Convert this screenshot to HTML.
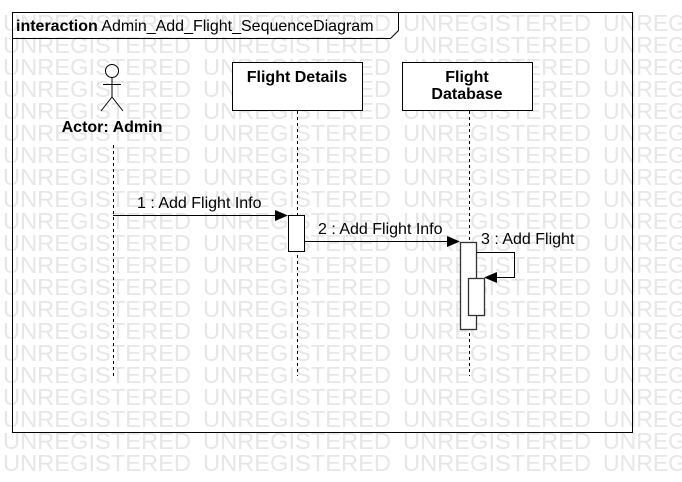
<!DOCTYPE html>
<html><head><style>
html,body{margin:0;padding:0;background:#fff;}
svg{display:block;}
</style></head><body>
<svg width="682" height="482" xmlns="http://www.w3.org/2000/svg" font-family="Liberation Sans, sans-serif">
<defs><text id="w" font-size="23" textLength="188" lengthAdjust="spacingAndGlyphs">UNREGISTERED</text></defs>
<g fill="#e6e6e6" font-size="23">
<text x="3" y="31" textLength="188" lengthAdjust="spacingAndGlyphs">UNREGISTERED</text><text x="203" y="31" textLength="188" lengthAdjust="spacingAndGlyphs">UNREGISTERED</text><text x="403" y="31" textLength="188" lengthAdjust="spacingAndGlyphs">UNREGISTERED</text><text x="603" y="31">UNREG</text>
<text x="3" y="53" textLength="188" lengthAdjust="spacingAndGlyphs">UNREGISTERED</text><text x="203" y="53" textLength="188" lengthAdjust="spacingAndGlyphs">UNREGISTERED</text><text x="403" y="53" textLength="188" lengthAdjust="spacingAndGlyphs">UNREGISTERED</text><text x="603" y="53">UNREG</text>
<text x="3" y="75" textLength="188" lengthAdjust="spacingAndGlyphs">UNREGISTERED</text><text x="203" y="75" textLength="188" lengthAdjust="spacingAndGlyphs">UNREGISTERED</text><text x="403" y="75" textLength="188" lengthAdjust="spacingAndGlyphs">UNREGISTERED</text><text x="603" y="75">UNREG</text>
<text x="3" y="97" textLength="188" lengthAdjust="spacingAndGlyphs">UNREGISTERED</text><text x="203" y="97" textLength="188" lengthAdjust="spacingAndGlyphs">UNREGISTERED</text><text x="403" y="97" textLength="188" lengthAdjust="spacingAndGlyphs">UNREGISTERED</text><text x="603" y="97">UNREG</text>
<text x="3" y="119" textLength="188" lengthAdjust="spacingAndGlyphs">UNREGISTERED</text><text x="203" y="119" textLength="188" lengthAdjust="spacingAndGlyphs">UNREGISTERED</text><text x="403" y="119" textLength="188" lengthAdjust="spacingAndGlyphs">UNREGISTERED</text><text x="603" y="119">UNREG</text>
<text x="3" y="141" textLength="188" lengthAdjust="spacingAndGlyphs">UNREGISTERED</text><text x="203" y="141" textLength="188" lengthAdjust="spacingAndGlyphs">UNREGISTERED</text><text x="403" y="141" textLength="188" lengthAdjust="spacingAndGlyphs">UNREGISTERED</text><text x="603" y="141">UNREG</text>
<text x="3" y="163" textLength="188" lengthAdjust="spacingAndGlyphs">UNREGISTERED</text><text x="203" y="163" textLength="188" lengthAdjust="spacingAndGlyphs">UNREGISTERED</text><text x="403" y="163" textLength="188" lengthAdjust="spacingAndGlyphs">UNREGISTERED</text><text x="603" y="163">UNREG</text>
<text x="3" y="185" textLength="188" lengthAdjust="spacingAndGlyphs">UNREGISTERED</text><text x="203" y="185" textLength="188" lengthAdjust="spacingAndGlyphs">UNREGISTERED</text><text x="403" y="185" textLength="188" lengthAdjust="spacingAndGlyphs">UNREGISTERED</text><text x="603" y="185">UNREG</text>
<text x="3" y="207" textLength="188" lengthAdjust="spacingAndGlyphs">UNREGISTERED</text><text x="203" y="207" textLength="188" lengthAdjust="spacingAndGlyphs">UNREGISTERED</text><text x="403" y="207" textLength="188" lengthAdjust="spacingAndGlyphs">UNREGISTERED</text><text x="603" y="207">UNREG</text>
<text x="3" y="229" textLength="188" lengthAdjust="spacingAndGlyphs">UNREGISTERED</text><text x="203" y="229" textLength="188" lengthAdjust="spacingAndGlyphs">UNREGISTERED</text><text x="403" y="229" textLength="188" lengthAdjust="spacingAndGlyphs">UNREGISTERED</text><text x="603" y="229">UNREG</text>
<text x="3" y="251" textLength="188" lengthAdjust="spacingAndGlyphs">UNREGISTERED</text><text x="203" y="251" textLength="188" lengthAdjust="spacingAndGlyphs">UNREGISTERED</text><text x="403" y="251" textLength="188" lengthAdjust="spacingAndGlyphs">UNREGISTERED</text><text x="603" y="251">UNREG</text>
<text x="3" y="273" textLength="188" lengthAdjust="spacingAndGlyphs">UNREGISTERED</text><text x="203" y="273" textLength="188" lengthAdjust="spacingAndGlyphs">UNREGISTERED</text><text x="403" y="273" textLength="188" lengthAdjust="spacingAndGlyphs">UNREGISTERED</text><text x="603" y="273">UNREG</text>
<text x="3" y="295" textLength="188" lengthAdjust="spacingAndGlyphs">UNREGISTERED</text><text x="203" y="295" textLength="188" lengthAdjust="spacingAndGlyphs">UNREGISTERED</text><text x="403" y="295" textLength="188" lengthAdjust="spacingAndGlyphs">UNREGISTERED</text><text x="603" y="295">UNREG</text>
<text x="3" y="317" textLength="188" lengthAdjust="spacingAndGlyphs">UNREGISTERED</text><text x="203" y="317" textLength="188" lengthAdjust="spacingAndGlyphs">UNREGISTERED</text><text x="403" y="317" textLength="188" lengthAdjust="spacingAndGlyphs">UNREGISTERED</text><text x="603" y="317">UNREG</text>
<text x="3" y="339" textLength="188" lengthAdjust="spacingAndGlyphs">UNREGISTERED</text><text x="203" y="339" textLength="188" lengthAdjust="spacingAndGlyphs">UNREGISTERED</text><text x="403" y="339" textLength="188" lengthAdjust="spacingAndGlyphs">UNREGISTERED</text><text x="603" y="339">UNREG</text>
<text x="3" y="361" textLength="188" lengthAdjust="spacingAndGlyphs">UNREGISTERED</text><text x="203" y="361" textLength="188" lengthAdjust="spacingAndGlyphs">UNREGISTERED</text><text x="403" y="361" textLength="188" lengthAdjust="spacingAndGlyphs">UNREGISTERED</text><text x="603" y="361">UNREG</text>
<text x="3" y="383" textLength="188" lengthAdjust="spacingAndGlyphs">UNREGISTERED</text><text x="203" y="383" textLength="188" lengthAdjust="spacingAndGlyphs">UNREGISTERED</text><text x="403" y="383" textLength="188" lengthAdjust="spacingAndGlyphs">UNREGISTERED</text><text x="603" y="383">UNREG</text>
<text x="3" y="405" textLength="188" lengthAdjust="spacingAndGlyphs">UNREGISTERED</text><text x="203" y="405" textLength="188" lengthAdjust="spacingAndGlyphs">UNREGISTERED</text><text x="403" y="405" textLength="188" lengthAdjust="spacingAndGlyphs">UNREGISTERED</text><text x="603" y="405">UNREG</text>
<text x="3" y="427" textLength="188" lengthAdjust="spacingAndGlyphs">UNREGISTERED</text><text x="203" y="427" textLength="188" lengthAdjust="spacingAndGlyphs">UNREGISTERED</text><text x="403" y="427" textLength="188" lengthAdjust="spacingAndGlyphs">UNREGISTERED</text><text x="603" y="427">UNREG</text>
<text x="3" y="449" textLength="188" lengthAdjust="spacingAndGlyphs">UNREGISTERED</text><text x="203" y="449" textLength="188" lengthAdjust="spacingAndGlyphs">UNREGISTERED</text><text x="403" y="449" textLength="188" lengthAdjust="spacingAndGlyphs">UNREGISTERED</text><text x="603" y="449">UNREG</text>
<text x="3" y="471" textLength="188" lengthAdjust="spacingAndGlyphs">UNREGISTERED</text><text x="203" y="471" textLength="188" lengthAdjust="spacingAndGlyphs">UNREGISTERED</text><text x="403" y="471" textLength="188" lengthAdjust="spacingAndGlyphs">UNREGISTERED</text><text x="603" y="471">UNREG</text>
</g>
<rect x="12.5" y="12.5" width="620" height="420" fill="none" stroke="#000"/>
<path d="M12.5 38.5 H390.5 L398.5 30.5 V12.5" fill="none" stroke="#000"/>
<text x="16" y="31" font-size="16"><tspan font-weight="bold">interaction</tspan> Admin_Add_Flight_SequenceDiagram</text>
<g stroke="#000" fill="none">
<circle cx="112" cy="71" r="6.5" fill="#fff"/>
<line x1="112" y1="77.5" x2="112" y2="97"/>
<line x1="103" y1="84.5" x2="121" y2="84.5"/>
<line x1="112" y1="97" x2="101" y2="111"/>
<line x1="112" y1="97" x2="123" y2="111"/>
</g>
<text x="112" y="132" font-size="16" font-weight="bold" text-anchor="middle">Actor: Admin</text>
<rect x="232.5" y="62.5" width="130" height="48" fill="#fff" stroke="#000"/>
<text x="297" y="82" font-size="16" font-weight="bold" text-anchor="middle">Flight Details</text>
<rect x="402.5" y="62.5" width="130" height="48" fill="#fff" stroke="#000"/>
<text x="467" y="82" font-size="16" font-weight="bold" text-anchor="middle">Flight</text>
<text x="467" y="99" font-size="16" font-weight="bold" text-anchor="middle">Database</text>
<g stroke="#000" stroke-dasharray="3,3">
<line x1="113.5" y1="145" x2="113.5" y2="376"/>
<line x1="297.5" y1="111" x2="297.5" y2="376"/>
<line x1="469.5" y1="111" x2="469.5" y2="376"/>
</g>
<line x1="113" y1="215.5" x2="278" y2="215.5" stroke="#000"/>
<polygon points="275,210 288,215.5 275,221" fill="#000"/>
<text x="137" y="208" font-size="16">1 : Add Flight Info</text>
<rect x="288.5" y="215.5" width="16" height="36" fill="#fff" stroke="#000"/>
<line x1="304" y1="241.5" x2="450" y2="241.5" stroke="#000"/>
<polygon points="447,236 460,241.5 447,247" fill="#000"/>
<text x="318" y="234" font-size="16">2 : Add Flight Info</text>
<rect x="460.5" y="242.5" width="16" height="87" fill="#fff" stroke="#333" stroke-width="1.3"/>
<text x="481" y="244" font-size="16">3 : Add Flight</text>
<path d="M476 252.5 H514.5 V277.5 H494" fill="none" stroke="#000"/>
<polygon points="497,272 484,277.5 497,283" fill="#000"/>
<rect x="468.5" y="278.5" width="16" height="37" fill="#fff" stroke="#333" stroke-width="1.3"/>
</svg>
</body></html>
